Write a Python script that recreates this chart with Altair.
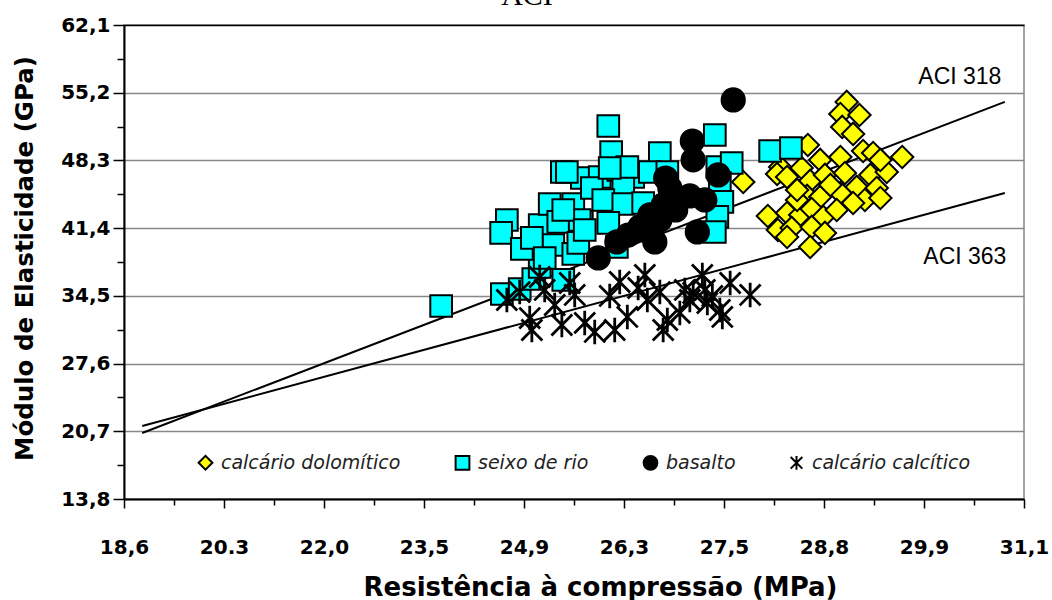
import altair as alt
import pandas as pd

# ---------------- data (MPa on x, GPa on y) ----------------
series = ["calcário dolomítico", "seixo de rio", "basalto", "calcário calcítico"]

dol_x = [29.05, 28.98, 29.19, 29.00, 29.12, 28.59, 27.75, 28.23, 28.19, 28.51,
         28.75, 28.98, 29.23, 29.34, 29.66, 28.62, 28.81, 29.03, 29.31, 29.49,
         29.16, 29.38, 28.98, 28.58, 28.75, 29.25, 29.42, 28.07, 28.32, 28.49,
         28.64, 28.79, 28.94, 28.20, 28.38, 28.64, 28.81, 28.62, 28.32, 29.12,
         29.42, 28.32, 28.45, 28.87, 28.45]
dol_y = [54.26, 53.03, 52.93, 51.71, 51.00, 49.87, 46.10, 47.63, 46.92, 47.53,
         48.35, 48.65, 49.26, 49.06, 48.65, 46.21, 46.82, 47.02, 46.82, 47.12,
         45.60, 45.49, 44.98, 44.68, 44.58, 44.27, 44.47, 42.64, 42.94, 42.74,
         43.35, 42.54, 43.25, 41.21, 41.42, 41.52, 40.91, 39.48, 40.50, 43.96,
         48.35, 46.61, 44.27, 45.80, 45.29]

sei_x = [23.74, 24.59, 24.84, 25.03, 25.12, 25.45, 24.66, 24.58, 24.87, 25.12,
         25.26, 25.38, 25.71, 25.59, 25.31, 25.59, 25.66, 25.43, 25.71, 25.96,
         26.08, 26.12, 26.22, 26.41, 26.29, 25.85, 26.01, 26.29, 26.53, 26.08,
         26.20, 25.68, 25.45, 26.73, 26.61, 26.82, 27.39, 27.42, 27.60, 27.45,
         27.48, 27.42, 27.39, 28.10, 28.37, 26.34, 26.10, 25.50, 25.75, 25.01,
         25.19]
sei_y = [33.47, 34.69, 35.20, 36.22, 37.44, 36.12, 42.23, 40.91, 39.28, 41.72,
         43.86, 42.03, 42.03, 43.86, 39.68, 38.77, 39.89, 47.12, 46.51, 46.61,
         51.81, 49.16, 47.33, 46.61, 45.60, 45.49, 44.27, 43.86, 43.96, 41.93,
         39.48, 42.23, 43.25, 49.06, 47.12, 47.12, 50.89, 47.63, 48.04, 46.00,
         44.07, 42.54, 41.01, 49.26, 49.57, 47.63, 47.53, 47.12, 41.21, 40.40,
         38.36]

bas_x = [27.62, 27.12, 27.13, 27.43, 26.80, 27.09, 26.85, 26.92, 26.73, 26.55,
         26.35, 26.67, 25.94, 27.18, 26.49, 26.20, 26.77, 27.27, 26.61]
bas_y = [54.46, 50.28, 48.35, 46.82, 46.51, 44.68, 45.49, 43.25, 42.23, 41.21,
         40.70, 39.99, 38.36, 41.01, 41.52, 39.99, 43.76, 44.27, 42.74]

cal_x = [24.66, 24.84, 24.98, 25.01, 25.19, 25.33, 25.43, 25.75, 25.89, 26.17,
         26.24, 26.34, 26.47, 26.55, 26.58, 26.73, 26.82, 26.77, 26.97, 27.13,
         27.24, 27.27, 27.30, 27.45, 27.48, 27.58, 27.84, 25.12, 25.54, 25.61,
         26.10, 27.09, 27.36, 27.03]
cal_y = [34.08, 34.89, 32.24, 31.02, 35.10, 33.57, 31.53, 31.74, 30.82, 31.02,
         35.91, 32.35, 35.30, 36.63, 34.08, 34.89, 32.04, 31.02, 32.76, 34.79,
         36.63, 35.10, 33.77, 33.06, 32.35, 35.81, 34.59, 36.42, 35.81, 34.59,
         34.49, 34.08, 34.49, 35.10]

# ACI reference lines (end points) and their labels
aci_names = ["ACI 318", "ACI 363"]
aci_x = [18.91, 30.87]
aci318_y = [20.53, 54.26]
aci363_y = [21.24, 44.98]
aci_label_x = [30.33, 30.39]
aci_label_y = [56.80, 38.46]

# axis ticks
x_ticks = [18.6, 20.3, 22.0, 23.5, 24.9, 26.3, 27.5, 28.8, 29.9, 31.1]
x_tick_labels = ["18,6", "20.3", "22,0", "23,5", "24,9", "26,3", "27,5", "28,8", "29,9", "31,1"]
x_minor = [19.45, 21.15, 22.75, 24.2, 25.6, 26.9, 28.15, 29.35, 30.5]
y_ticks = [13.8, 20.7, 27.6, 34.5, 41.4, 48.3, 55.2, 62.1]
y_minor = [17.25, 24.15, 31.05, 37.95, 44.85, 51.75, 58.65]

# ---------------- tables ----------------
series_xy = [(dol_x, dol_y), (sei_x, sei_y), (bas_x, bas_y), (cal_x, cal_y)]
series_frames = [
    pd.DataFrame({"tipo": name, "x": sx, "y": sy})
    for name, (sx, sy) in zip(series, series_xy)
]

lines_df = pd.DataFrame({
    "serie": [aci_names[0]] * 2 + [aci_names[1]] * 2,
    "x": aci_x + aci_x,
    "y": aci318_y + aci363_y,
})
labels_df = pd.DataFrame({"x": aci_label_x, "y": aci_label_y, "label": aci_names})

# ---------------- styling ----------------
STAR = "M0,-1L0,1M-0.85,-0.85L0.85,0.85M-0.85,0.85L0.85,-0.85"
fills = ["#ffff00", "#00ffff", "#000000", "#000000"]
shapes = ["diamond", "square", "circle", STAR]
sizes = [500, 470, 540, 600]
stroke_widths = [2, 2, 2, 2.8]

FONT = "DejaVu Sans"

def arr(vals):
    return "[" + ",".join(str(v) for v in vals) + "]"

x_major_test = f"indexof({arr(x_ticks)}, datum.value) >= 0"
y_major_test = f"indexof({arr(y_ticks)}, datum.value) >= 0"

x_label_expr = "''"
for v, lab in reversed(list(zip(x_ticks, x_tick_labels))):
    x_label_expr = f"datum.value == {v} ? '{lab}' : ({x_label_expr})"

y_label_expr = f"{y_major_test} ? replace(format(datum.value, '.1f'), '.', ',') : ''"

x_scale = alt.Scale(domain=x_ticks, range=[i * 100 for i in range(len(x_ticks))],
                    nice=False, zero=False)
y_scale = alt.Scale(domain=[y_ticks[0], y_ticks[-1]], nice=False, zero=False)

x_axis = alt.Axis(
    values=sorted(x_ticks + x_minor),
    labelExpr=x_label_expr,
    title="Resistência à compressão (MPa)",
    grid=False,
    domainColor="black", domainWidth=2,
    tickColor="black", tickWidth=1.5,
    tickSize={"condition": {"test": x_major_test, "value": 9}, "value": 6},
    labelFont=FONT, labelFontWeight="bold", labelFontSize=20, labelColor="black",
    labelPadding=29, labelFlush=False, labelOverlap=False,
    titleFont=FONT, titleFontWeight="bold", titleFontSize=26, titleColor="black",
    titleX=476, titleY=88, titleBaseline="middle", titleAlign="center",
)
y_axis = alt.Axis(
    values=sorted(y_ticks + y_minor),
    labelExpr=y_label_expr,
    title="Módulo de Elasticidade (GPa)",
    grid=True,
    gridColor={"condition": {"test": "datum.value == 62.1", "value": "#000000"}, "value": "#888888"},
    gridOpacity={"condition": {"test": y_major_test, "value": 1}, "value": 0},
    gridWidth=1.5,
    domainColor="black", domainWidth=2,
    tickColor="black", tickWidth=1.5,
    tickSize={"condition": {"test": y_major_test, "value": 11}, "value": 7},
    labelFont=FONT, labelFontWeight="bold", labelFontSize=20, labelColor="black",
    labelPadding=3, labelFlush=False, labelOverlap=False,
    titleFont=FONT, titleFontWeight="bold", titleFontSize=24.5, titleColor="black",
    titleX=-99, titleY=233, titleBaseline="middle", titleAlign="center",
)

x_enc = alt.X("x:Q", scale=x_scale, axis=x_axis)
y_enc = alt.Y("y:Q", scale=y_scale, axis=y_axis)

legend = alt.Legend(
    title=None, orient="none", legendX=72, legendY=428,
    direction="horizontal", columns=4, columnPadding=50, padding=0,
    symbolSize=190, symbolStrokeWidth=2,
    labelFont=FONT, labelFontStyle="italic", labelFontSize=19, labelLimit=400,
    labelColor="#222222", labelOffset=6,
)
shape_enc = alt.Shape("tipo:N", scale=alt.Scale(domain=series, range=shapes), legend=legend)
fill_enc = alt.Fill("tipo:N", scale=alt.Scale(domain=series, range=fills), legend=legend)
stroke_enc = alt.Stroke("tipo:N", scale=alt.Scale(domain=series, range=["#000000"] * 4),
                        legend=legend)

lines = alt.Chart(lines_df).mark_line(color="black", strokeWidth=2).encode(
    x=x_enc, y=y_enc, detail="serie:N"
)

# one layer per aggregate type, drawn in legend order
point_layers = [
    alt.Chart(df).mark_point(
        filled=True, strokeWidth=sw, opacity=1, size=sz
    ).encode(x=x_enc, y=y_enc, shape=shape_enc, fill=fill_enc, stroke=stroke_enc)
    for df, sz, sw in zip(series_frames, sizes, stroke_widths)
]

line_labels = alt.Chart(labels_df).mark_text(
    font="Liberation Sans", fontSize=23, color="black", align="center", baseline="middle"
).encode(x=x_enc, y=y_enc, text="label:N")

head = alt.Chart(pd.DataFrame({"t": ["ACI"]})).mark_text(
    font="Liberation Serif", fontSize=30, color="black", align="center", baseline="alphabetic"
).encode(x=alt.value(403), y=alt.value(-20), text="t:N")

chart = alt.layer(lines, *point_layers, line_labels, head).properties(
    width=900, height=474,
    autosize=alt.AutoSizeParams(type="none"),
    padding={"left": 124, "top": 25, "right": 28, "bottom": 101},
    background="white",
).configure_view(stroke="#888888", strokeWidth=1.5)

chart.save("out.html", embed_options={"renderer": "svg", "actions": False})
